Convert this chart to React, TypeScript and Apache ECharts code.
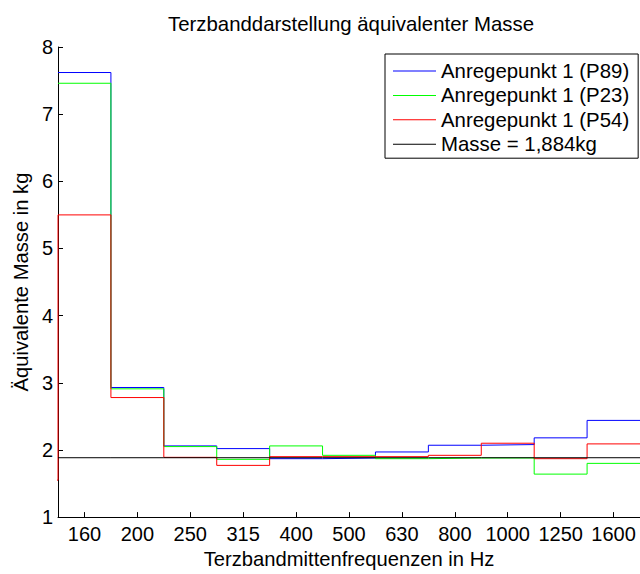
import React, { useEffect, useRef } from 'react';
import * as echarts from 'echarts';

const categories = ['160', '200', '250', '315', '400', '500', '630', '800', '1000', '1250', '1600'];
const p89 = [7.62, 2.93, 2.06, 2.02, 1.87, 1.88, 1.97, 2.07, 2.08, 2.18, 2.44];
const p23 = [7.46, 2.91, 2.05, 1.86, 2.06, 1.92, 1.87, 1.88, 1.88, 1.64, 1.8];
const p54 = [5.5, 2.78, 1.89, 1.77, 1.9, 1.9, 1.9, 1.92, 2.1, 1.87, 2.09];
const p54Start = 1.55;
const massValue = 1.884;
const seriesNames = [
  'Anregepunkt 1 (P89)',
  'Anregepunkt 1 (P23)',
  'Anregepunkt 1 (P54)',
  'Masse = 1,884kg',
];
const yTicks = [1, 2, 3, 4, 5, 6, 7, 8];

const FONT = "'Liberation Sans', Arial, Helvetica, sans-serif";

function stairs(values: number[], start?: number) {
  const pts: number[][] = [];
  if (start !== undefined) pts.push([-1.5, start]);
  values.forEach((v, i) => pts.push([i - 0.5, v]));
  pts.push([values.length - 0.5, values[values.length - 1]]);
  return pts;
}

export default function App() {
  const ref = useRef<HTMLDivElement>(null);
  useEffect(() => {
    const chart = echarts.init(ref.current!, null, { renderer: 'svg' });
    const lineSeries = (name: string, data: number[][], color: string) => ({
      name,
      type: 'line',
      xAxisIndex: 1,
      yAxisIndex: 0,
      data,
      step: 'end',
      symbol: 'none',
      showSymbol: false,
      clip: true,
      color,
      lineStyle: { color, width: 1 },
    });
    chart.setOption({
      animation: false,
      backgroundColor: '#fff',
      textStyle: { fontFamily: FONT, color: '#000' },
      title: {
        text: 'Terzbanddarstellung äquivalenter Masse',
        left: 351,
        top: 14,
        padding: 0,
        textAlign: 'center',
        textStyle: { fontFamily: FONT, fontSize: 20.4, fontWeight: 'normal', color: '#000', lineHeight: 20 },
      },
      grid: { left: 58, top: 47, right: -4, bottom: 48, containLabel: false },
      legend: {
        data: seriesNames.map((n) => ({ name: n, icon: 'rect' })),
        orient: 'vertical',
        left: 385,
        top: 54,
        padding: [7, 9, 4, 8],
        itemWidth: 43,
        itemHeight: 1,
        itemGap: 4.4,
        borderColor: '#000',
        borderWidth: 1,
        backgroundColor: '#fff',
        textStyle: { fontFamily: FONT, fontSize: 20.4, color: '#000', lineHeight: 20 },
        z: 10,
      },
      xAxis: [
        {
          type: 'category',
          data: categories,
          boundaryGap: true,
          name: 'Terzbandmittenfrequenzen in Hz',
          nameLocation: 'middle',
          nameGap: 26,
          nameTextStyle: { fontFamily: FONT, fontSize: 20.2, color: '#000', lineHeight: 20 },
          axisLine: { show: true, onZero: false, lineStyle: { color: '#000', width: 1 } },
          axisTick: { show: true, inside: true, alignWithLabel: true, length: 5, lineStyle: { color: '#000' } },
          axisLabel: { margin: 7, fontFamily: FONT, fontSize: 20, color: '#000', interval: 0 },
          splitLine: { show: false },
        },
        {
          type: 'value',
          min: -0.5,
          max: categories.length - 0.5,
          show: false,
          axisLine: { onZero: false },
        },
      ],
      yAxis: {
        type: 'value',
        min: yTicks[0],
        max: yTicks[yTicks.length - 1],
        interval: 1,
        name: 'Äquivalente Masse in kg',
        nameLocation: 'middle',
        nameGap: 21,
        nameTextStyle: { fontFamily: FONT, fontSize: 20.2, color: '#000', lineHeight: 20 },
        axisLine: { show: true, onZero: false, lineStyle: { color: '#000', width: 1 } },
        axisTick: { show: true, inside: true, length: 5, lineStyle: { color: '#000' } },
        axisLabel: { margin: 5, fontFamily: FONT, fontSize: 20, color: '#000' },
        splitLine: { show: false },
      },
      series: [
        lineSeries(seriesNames[0], stairs(p89), '#0000ff'),
        lineSeries(seriesNames[1], stairs(p23), '#00ff00'),
        lineSeries(seriesNames[2], stairs(p54, p54Start), '#ff0000'),
        lineSeries(seriesNames[3], stairs(categories.map(() => massValue)), '#000000'),
      ],
    });
    return () => chart.dispose();
  }, []);
  return (
    <div
      ref={ref}
      style={{ position: 'absolute', left: 0, top: 0, width: 640, height: 574, background: '#fff' }}
    />
  );
}
